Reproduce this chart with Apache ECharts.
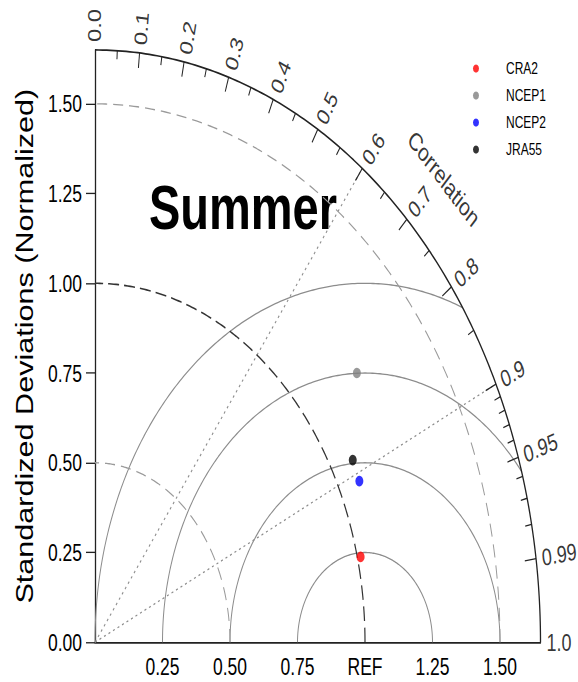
<!DOCTYPE html>
<html><head><meta charset="utf-8">
<script src="https://cdn.jsdelivr.net/npm/echarts@6/dist/echarts.min.js"></script>
<style>
html,body{margin:0;padding:0;background:#fff;overflow:hidden;}
#wrap{width:578px;height:682px;overflow:hidden;}
#chart{width:578px;height:513px;transform:scaleY(1.32943);transform-origin:0 0;}
</style></head><body><div id="wrap"><div id="chart"></div></div>
<script>
// ---- data ----
const models = ['CRA2', 'NCEP1', 'NCEP2', 'JRA55'];
const stdDev = [1.012, 1.226, 1.077, 1.081];
const corr = [0.972, 0.791, 0.909, 0.883];
const colors = ['#ff0000', '#808080', '#0000ff', '#000000'];
const stdTicks = [0, 0.25, 0.5, 0.75, 1.0, 1.25, 1.5];
const stdTickLabels = ['0.00', '0.25', '0.50', '0.75', '1.00', '1.25', '1.50'];
const xTicks = [0.25, 0.5, 0.75, 1.0, 1.25, 1.5];
const xTickLabels = ['0.25', '0.50', '0.75', 'REF', '1.25', '1.50'];
const corrMajor = [0.0, 0.1, 0.2, 0.3, 0.4, 0.5, 0.6, 0.7, 0.8, 0.9, 0.95, 0.99, 1.0];
const corrLabels = ['0.0', '0.1', '0.2', '0.3', '0.4', '0.5', '0.6', '0.7', '0.8', '0.9', '0.95', '0.99', '1.0'];
const corrMinor = [0.05, 0.15, 0.25, 0.35, 0.45, 0.55, 0.65, 0.75, 0.85, 0.91, 0.92, 0.93, 0.94, 0.96, 0.97, 0.98];
const stdArcs = [0.5, 1.0, 1.5];
const rmsArcs = [0.25, 0.5, 0.75, 1.0];
const corrLines = [0.6, 0.9];
const maxStd = 1.65;
const refStd = 1.0;

// ---- helpers ----
const FONT = '"Liberation Sans", Arial, Helvetica, sans-serif';
function polar(s, r) { return [s * r, s * Math.sqrt(Math.max(0, 1 - r * r))]; }
function stdArc(R) {
  const pts = [];
  for (let i = 0; i <= 180; i++) { const a = i * Math.PI / 360; pts.push([R * Math.cos(a), R * Math.sin(a)]); }
  return pts;
}
function rmsArc(R) {
  const xi = (maxStd * maxStd - R * R + refStd * refStd) / (2 * refStd);
  const c = Math.max(-1, Math.min(1, (xi - refStd) / R));
  const a0 = Math.acos(c);
  const pts = [];
  const n = 200;
  for (let i = 0; i <= n; i++) { const a = a0 + (Math.PI - a0) * i / n; pts.push([refStd + R * Math.cos(a), R * Math.sin(a)]); }
  return pts;
}
const majorLen = 0.042, minorLen = 0.024;
const tickSegs = [];
corrMajor.forEach(r => { if (r > 0 && r < 1) tickSegs.push({ coords: [polar(maxStd, r), polar(maxStd - majorLen, r)] }); });
corrMinor.forEach(r => tickSegs.push({ coords: [polar(maxStd, r), polar(maxStd - minorLen, r)] }));
const radialSegs = corrLines.map(r => ({ coords: [[0, 0], polar(maxStd, r)] }));

const series = [];
rmsArcs.forEach(R => series.push({
  type: 'line', data: rmsArc(R), showSymbol: false, silent: true, clip: false,
  lineStyle: { color: '#8c8c8c', width: 1 }, z: 2
}));
stdArcs.forEach(R => series.push({
  type: 'line', data: stdArc(R), showSymbol: false, silent: true, clip: false,
  lineStyle: R === refStd ? { color: '#333', width: 1.2, type: [11, 5] } : { color: '#9a9a9a', width: 1, type: [10, 6] }, z: 2
}));
series.push({
  type: 'line', data: stdArc(maxStd), showSymbol: false, silent: true, clip: false,
  lineStyle: { color: '#222', width: 1.3 }, z: 3
});
series.push({
  type: 'lines', coordinateSystem: 'cartesian2d', data: radialSegs, silent: true, clip: false,
  lineStyle: { color: '#8c8c8c', width: 1, type: [2, 3], opacity: 1 }, z: 2
});
series.push({
  type: 'lines', coordinateSystem: 'cartesian2d', data: tickSegs, silent: true, clip: false,
  lineStyle: { color: '#222', width: 1, opacity: 1 }, z: 3
});
// correlation labels
series.push({
  type: 'scatter', silent: true, clip: false, symbolSize: 0,
  data: corrMajor.map((r, i) => ({
    value: polar(maxStd + 0.022, r),
    label: { formatter: corrLabels[i], rotate: Math.acos(r) * 180 / Math.PI }
  })),
  label: { show: true, position: 'inside', align: 'left', verticalAlign: 'middle', fontSize: 18, color: '#000', textBorderWidth: 0, fontFamily: FONT },
  z: 4
});
// "Correlation" axis title
series.push({
  type: 'scatter', silent: true, clip: false, symbolSize: 0,
  data: [{ value: polar(1.826, Math.cos(Math.PI / 4)) }],
  label: { show: true, position: 'inside', formatter: 'Correlation', rotate: -45, align: 'center', verticalAlign: 'middle', fontSize: 19, color: '#000', textBorderWidth: 0, fontFamily: FONT },
  z: 4
});
// model points
models.forEach((m, i) => series.push({
  type: 'scatter', name: m, data: [polar(stdDev[i], corr[i])], symbol: 'circle', symbolSize: 8,
  itemStyle: { color: colors[i] }, clip: false, z: 10
}));

const chart = echarts.init(document.getElementById('chart'), null, { renderer: 'svg' });
chart.setOption({
  animation: false,
  backgroundColor: '#fff',
  grid: { left: 95, top: 37.6, width: 445.5, height: 445.5 },
  xAxis: {
    type: 'value', min: 0, max: maxStd,
    axisLine: { show: true, lineStyle: { color: '#222', width: 1.3 } },
    axisTick: { show: false }, splitLine: { show: false },
    axisLabel: {
      customValues: xTicks, margin: 9, fontSize: 17.5, color: '#000', fontFamily: FONT,
      formatter: v => { const k = xTicks.findIndex(t => Math.abs(t - v) < 1e-6); return k >= 0 ? xTickLabels[k] : ''; }
    }
  },
  yAxis: {
    type: 'value', min: 0, max: maxStd,
    name: 'Standardized Deviations (Normalized)', nameLocation: 'middle', nameRotate: 90, nameGap: 56,
    nameTextStyle: { fontSize: 23, color: '#000', fontFamily: FONT },
    axisLine: { show: true, lineStyle: { color: '#222', width: 1.3 } },
    axisTick: { show: true, customValues: stdTicks, length: 9, lineStyle: { color: '#222', width: 1 } },
    splitLine: { show: false },
    axisLabel: {
      customValues: stdTicks, margin: 13, fontSize: 17.5, color: '#000', fontFamily: FONT,
      formatter: v => { const k = stdTicks.findIndex(t => Math.abs(t - v) < 1e-6); return k >= 0 ? stdTickLabels[k] : ''; }
    }
  },
  legend: {
    data: models, orient: 'vertical', left: 468, top: 39.5, itemWidth: 6, itemHeight: 6, itemGap: 6.3,
    icon: 'circle',
    textStyle: { fontSize: 12, lineHeight: 14, color: '#000', fontFamily: FONT, padding: [0, 0, 0, 22] }
  },
  graphic: [{
    type: 'text', x: 243, y: 156,
    style: { text: 'Summer', fill: '#000', font: 'bold 47px "Liberation Sans", Arial, sans-serif', textAlign: 'center', textVerticalAlign: 'middle' }
  }],
  series: series
});
</script></body></html>
